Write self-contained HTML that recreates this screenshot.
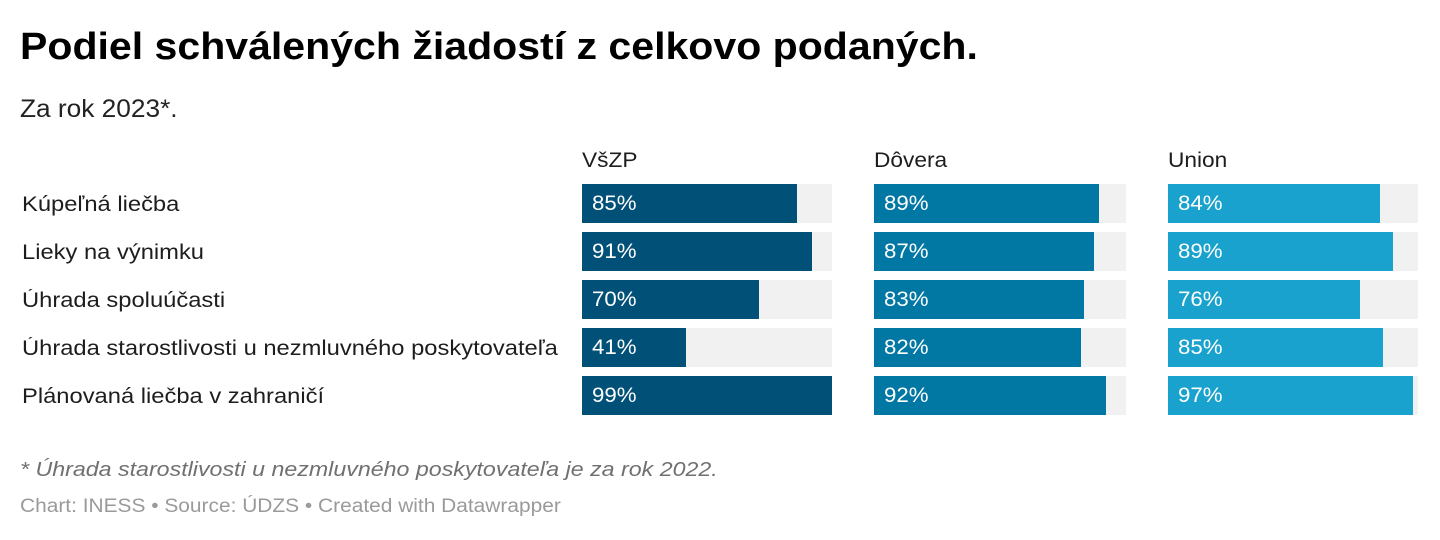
<!DOCTYPE html>
<html><head><meta charset="utf-8"><style>
body{margin:0;width:1440px;height:540px;background:#fff;font-family:"Liberation Sans",Arial,sans-serif;color:#1d1d1d;position:relative;overflow:hidden}
.a{position:absolute;white-space:nowrap;transform-origin:0 0}
.bg{position:absolute;background:#f1f1f1;height:39px}
.b{position:absolute;height:39px;color:#fff;font-size:21px;line-height:40px;padding-left:10px;box-sizing:border-box}
.b span{display:inline-block;transform:scaleX(1.06);transform-origin:0 0}
.l{font-size:21px}
</style></head><body>
<div class="a" style="left:20px;top:26px;font-size:38px;font-weight:bold;color:#000;transform:scaleX(1.08)">Podiel schválených žiadostí z celkovo podaných.</div>
<div class="a" style="left:20px;top:95px;font-size:25px;color:#222;transform:scaleX(1.05)">Za rok 2023*.</div>
<div class="a l" style="left:582px;top:149px;transform:scaleX(1.08)">VšZP</div>
<div class="a l" style="left:874px;top:149px;transform:scaleX(1.08)">Dôvera</div>
<div class="a l" style="left:1168px;top:149px;transform:scaleX(1.08)">Union</div>
<div id="rows"></div>
<div class="a" style="left:20px;top:459px;font-size:20px;font-style:italic;color:#707070;transform:scaleX(1.16)">* Úhrada starostlivosti u nezmluvného poskytovateľa je za rok 2022.</div>
<div class="a" style="left:20px;top:496px;font-size:19px;color:#9a9a9a;transform:scaleX(1.10)">Chart: INESS • Source: ÚDZS • Created with Datawrapper</div>
<script>
var labels=["Kúpeľná liečba","Lieky na výnimku","Úhrada spoluúčasti","Úhrada starostlivosti u nezmluvného poskytovateľa","Plánovaná liečba v zahraničí"];
var d=[[85,89,84],[91,87,89],[70,83,76],[41,82,85],[99,92,97]];
var xs=[582,874,1168],ws=[250,252,250],cs=["#005077","#0177a3","#19a2cd"];
var h="";
for(var i=0;i<5;i++){var y=184+i*48;
h+='<div class="a l" style="left:22px;top:'+(y+9)+'px;transform:scaleX(1.13)">'+labels[i]+'</div>';
for(var j=0;j<3;j++){h+='<div class="bg" style="left:'+xs[j]+'px;top:'+y+'px;width:'+ws[j]+'px"></div>';
h+='<div class="b" style="left:'+xs[j]+'px;top:'+y+'px;width:'+Math.round(d[i][j]*2.525)+'px;background:'+cs[j]+'"><span>'+d[i][j]+'%</span></div>';}}
document.getElementById("rows").innerHTML=h;
</script>
</body></html>
